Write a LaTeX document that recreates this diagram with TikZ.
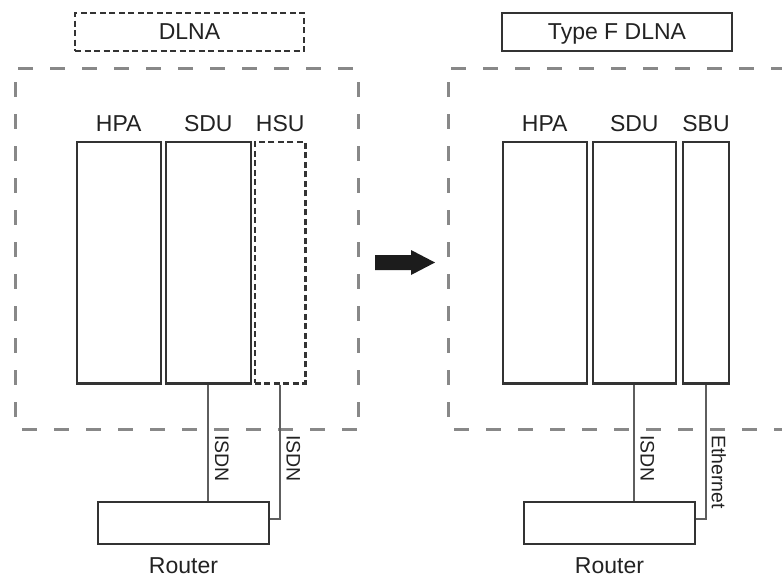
\documentclass[tikz,border=0pt]{standalone}
\usepackage{fontspec}
\setmainfont{Liberation Sans}
\definecolor{boxc}{HTML}{333333}
\definecolor{dashc}{HTML}{888888}
\definecolor{linec}{HTML}{5E5E5E}
\definecolor{txtc}{HTML}{222222}
\definecolor{arrc}{HTML}{1C1C1C}
\begin{document}
\begin{tikzpicture}[x=1pt,y=-1pt,
  lab/.style={text=txtc, inner sep=0pt, font=\fontsize{23pt}{27pt}\selectfont},
  vlab/.style={text=txtc, inner sep=0pt, font=\fontsize{19.5pt}{23pt}\selectfont, rotate=-90, anchor=south west},
  solidbox/.style={draw=boxc, line width=2.2pt, rectangle, inner sep=0pt},
  dotbox/.style={draw=boxc, line width=2.2pt, rectangle, inner sep=0pt, dash pattern=on 6pt off 3.5pt},
  grpline/.style={draw=dashc, line width=3pt, dash pattern=on 15pt off 17pt},
  conn/.style={draw=linec, line width=2pt},
  unitbox/.style={minimum height=241.5pt, minimum width=#1}
]
\clip (0,0) rectangle (782,579);
\fill[white] (0,0) rectangle (782,579);

% ---------- left : DLNA ----------
\coordinate (g1a) at (15,68);
\coordinate (g1b) at (358,68);
\coordinate (g1c) at (358,429);
\coordinate (g1d) at (15,429);
\draw[grpline, dash phase=29pt] (g1a) -- (g1b);
\draw[grpline, dash phase=18pt] (g1a) -- (g1d);
\draw[grpline, dash phase=18pt] (g1b) -- (g1c);
\draw[grpline, dash phase=25pt] (g1d) -- (g1c);

\node[dotbox, lab, minimum width=229pt, minimum height=38pt, text depth=0pt] (dlna) at (189.5,32) {DLNA};

\node[solidbox, unitbox=84pt] (hpa1) at (118.7,262.7) {};
\node[solidbox, unitbox=84.7pt] (sdu1) at (208.3,262.7) {};
\node[dotbox, unitbox=50.5pt] (hsu1) at (280.2,262.7) {};
\node[lab, anchor=base] (hpa1l) at (hpa1.north |- 0,131) {HPA};
\node[lab, anchor=base] (sdu1l) at (sdu1.north |- 0,131) {SDU};
\node[lab, anchor=base] (hsu1l) at (hsu1.north |- 0,131) {HSU};

\node[solidbox, minimum width=171pt, minimum height=42pt] (router1) at (183.5,523) {};
\node[lab, anchor=base] (router1l) at (router1.south |- 0,573) {Router};

\draw[conn] (sdu1.south) -- (sdu1.south |- router1.north);
\draw[conn] (hsu1.south) |- ([yshift=4pt]router1.east);
\node[vlab] (isdn1) at ([xshift=6.5pt]sdu1.south |- 0,435) {ISDN};
\node[vlab] (isdn2) at ([xshift=6pt]hsu1.south |- 0,435) {ISDN};

% ---------- arrow ----------
\fill[arrc] (375,255) -- (411,255) -- (411,250) -- (435,262.5) -- (411,275) -- (411,270) -- (375,270) -- cycle;

% ---------- right : Type F DLNA ----------
\coordinate (g2a) at (448,68);
\coordinate (g2b) at (782,68);
\coordinate (g2c) at (782,429);
\coordinate (g2d) at (448,429);
\draw[grpline, dash phase=29pt] (g2a) -- (g2b);
\draw[grpline, dash phase=18pt] (g2a) -- (g2d);
\draw[grpline, dash phase=26pt] (g2d) -- (g2c);

\node[solidbox, lab, minimum width=230pt, minimum height=38pt, text depth=0pt] (tfdlna) at (617,32) {Type F DLNA};

\node[solidbox, unitbox=84pt] (hpa2) at (544.7,262.7) {};
\node[solidbox, unitbox=83.3pt] (sdu2) at (634.3,262.7) {};
\node[solidbox, unitbox=46.6pt] (sbu2) at (706,262.7) {};
\node[lab, anchor=base] (hpa2l) at (hpa2.north |- 0,131) {HPA};
\node[lab, anchor=base] (sdu2l) at (sdu2.north |- 0,131) {SDU};
\node[lab, anchor=base] (sbu2l) at (sbu2.north |- 0,131) {SBU};

\node[solidbox, minimum width=171pt, minimum height=42pt] (router2) at (609.5,523) {};
\node[lab, anchor=base] (router2l) at (router2.south |- 0,573) {Router};

\draw[conn] (sdu2.south) -- (sdu2.south |- router2.north);
\draw[conn] (sbu2.south) |- ([yshift=4pt]router2.east);
\node[vlab] (isdn3) at ([xshift=6pt]sdu2.south |- 0,435) {ISDN};
\node[vlab] (eth) at ([xshift=5.5pt]sbu2.south |- 0,435) {Ethernet};
\end{tikzpicture}
\end{document}
